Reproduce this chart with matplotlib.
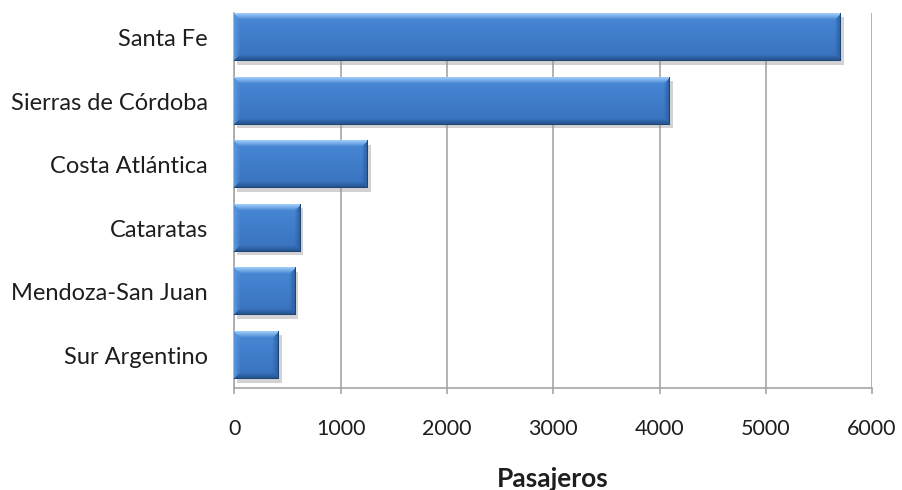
import numpy as np
import matplotlib
matplotlib.use("Agg")
import matplotlib.pyplot as plt
import matplotlib.patheffects as pe
from matplotlib.colors import to_rgb

# data (passengers per destination)
categories = ["Santa Fe", "Sierras de Córdoba", "Costa Atlántica",
              "Cataratas", "Mendoza-San Juan", "Sur Argentino"]
pasajeros = [5710, 4100, 1260, 625, 577, 423]
x_ticks = [0, 1000, 2000, 3000, 4000, 5000, 6000]

plt.rcParams["font.family"] = ["Lato", "DejaVu Sans"]
TEXT = "#1e1e1e"
GRID = "#a6a6a6"

W, H, DPI = 902, 490, 100
fig = plt.figure(figsize=(W / DPI, H / DPI), dpi=DPI)
ax = fig.add_axes([234.5 / W, 102 / H, 637.5 / W, 375 / H])

n = len(categories)
ypos = np.arange(n)
bar_h = 0.74


def bevel_image(wpx, hpx, bevel=6):
    """RGB array for one bar with an Excel-2007-ish bevel."""
    light = np.array(to_rgb("#9ccaf8"))
    mid_top = np.array(to_rgb("#4789d6"))
    mid_bot = np.array(to_rgb("#3871bd"))
    dark = np.array(to_rgb("#24528c"))
    left_c = np.array(to_rgb("#5a96dc"))
    right_c = np.array(to_rgb("#2c5e9e"))

    yy, xx = np.mgrid[0:hpx, 0:wpx].astype(float)
    t = yy / max(hpx - 1, 1)
    img = mid_top[None, None, :] * (1 - t[..., None]) + mid_bot[None, None, :] * t[..., None]

    d_top = yy
    d_bot = hpx - 1 - yy
    d_left = xx
    d_right = wpx - 1 - xx
    dmin = np.minimum.reduce([d_top, d_bot, d_left, d_right])
    edge = dmin < bevel
    which = np.argmin(np.stack([d_top, d_bot, d_left, d_right]), axis=0)
    f = (1 - dmin / bevel)[..., None]
    for k, col in enumerate([light, dark, left_c, right_c]):
        m = edge & (which == k)
        img[m] = (img * (1 - f) + col * f)[m]
    # thin dark outline at bottom and right
    img[-1, :] = dark * 0.85
    img[:, -1] = dark * 0.85
    return np.clip(img, 0, 1)


px_per_unit = 637.5 / 6000
pitch_px = 375 / (n - 1 + 0.51 + 0.385)
for y, v in zip(ypos, pasajeros):
    # base patch carries the drop shadow
    ax.barh(y, v, height=bar_h, color="#3871bd", zorder=2,
            path_effects=[pe.SimplePatchShadow(offset=(1.8, -2.5), shadow_rgbFace="#909090", alpha=0.4),
                          pe.Normal()])
    img = bevel_image(max(int(v * px_per_unit), 2), int(bar_h * pitch_px))
    ax.imshow(img, extent=[0, v, y + bar_h / 2, y - bar_h / 2], aspect="auto",
              interpolation="bilinear", zorder=3)

ax.set_xlim(0, 6000)
ax.set_ylim(n - 1 + 0.51, -0.385)

ax.set_xticks(x_ticks)
ax.set_yticks(ypos)
ax.set_yticklabels(categories)
ax.grid(axis="x", color=GRID, linewidth=1.2, zorder=0)
ax.set_axisbelow(True)

for s in ["top", "right"]:
    ax.spines[s].set_visible(False)
ax.spines["left"].set_color(GRID)
ax.spines["bottom"].set_color(GRID)
ax.spines["left"].set_linewidth(1.2)
ax.spines["bottom"].set_linewidth(1.2)

ax.tick_params(axis="y", length=0, pad=19, labelsize=17, labelcolor=TEXT)
ax.tick_params(axis="x", length=4, color=GRID, width=1.2, pad=18, labelsize=15.5, labelcolor=TEXT)

fig.text(553 / W, 1 - 479 / H, "Pasajeros", ha="center", va="center",
         fontsize=19, fontweight="bold", color=TEXT)

fig.savefig("out.png", dpi=DPI, facecolor="white")
